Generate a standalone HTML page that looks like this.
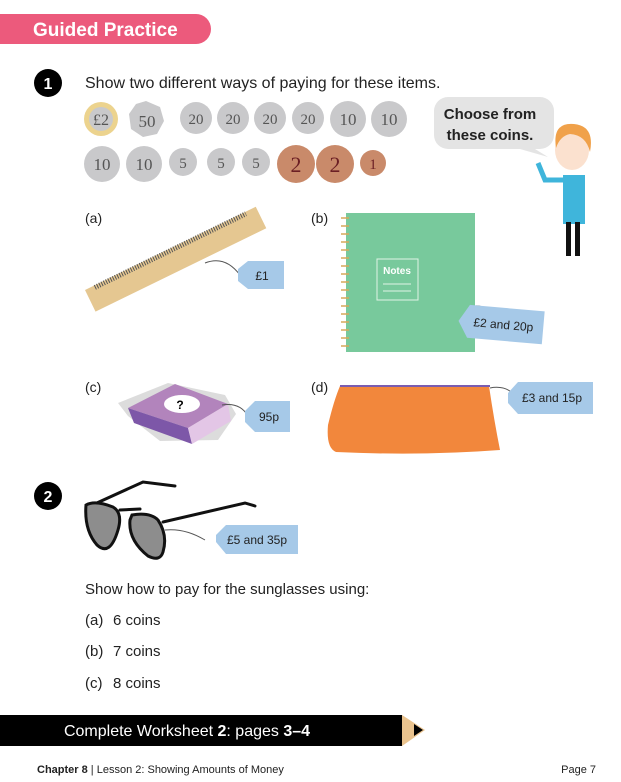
<!DOCTYPE html>
<html><head><meta charset="utf-8"><style>
body{margin:0;width:621px;height:777px;background:#fff;overflow:hidden;font-family:"Liberation Sans",sans-serif;}
</style></head><body>
<svg width="621" height="777" xmlns="http://www.w3.org/2000/svg" font-family="Liberation Sans, sans-serif">
<path d="M0 14 H196 A15 15 0 0 1 196 44 H0 Z" fill="#ec5a7c"/>
<text x="33" y="36" font-size="19" font-weight="bold" fill="#fff">Guided Practice</text>
<circle cx="48" cy="83" r="14" fill="#000"/><text x="48" y="89" font-size="16" font-weight="bold" fill="#fff" text-anchor="middle">1</text>
<text x="85" y="88" font-size="16" fill="#222">Show two different ways of paying for these items.</text>
<g font-family="Liberation Serif, serif" text-anchor="middle">
<circle cx="101" cy="119" r="17" fill="#ecd38e"/><circle cx="101" cy="119" r="12" fill="#c9c9cb"/><text x="101" y="125" font-size="16" fill="#555">£2</text>
<polygon points="146,101 160,107 164,121 157,134 143,137 131,129 129,114 136,104" fill="#c9c9cb"/><text x="147" y="127" font-size="17" fill="#555">50</text>
<g fill="#c9c9cb"><circle cx="196" cy="118" r="16"/><circle cx="233" cy="118" r="16"/><circle cx="270" cy="118" r="16"/><circle cx="308" cy="118" r="16"/><circle cx="348" cy="119" r="18"/><circle cx="389" cy="119" r="18"/>
<circle cx="102" cy="164" r="18"/><circle cx="144" cy="164" r="18"/><circle cx="183" cy="162" r="14"/><circle cx="221" cy="162" r="14"/><circle cx="256" cy="162" r="14"/></g>
<g fill="#555" font-size="15"><text x="196" y="124">20</text><text x="233" y="124">20</text><text x="270" y="124">20</text><text x="308" y="124">20</text><text x="348" y="125" font-size="17">10</text><text x="389" y="125" font-size="17">10</text>
<text x="102" y="170" font-size="17">10</text><text x="144" y="170" font-size="17">10</text><text x="183" y="168">5</text><text x="221" y="168">5</text><text x="256" y="168">5</text></g>
<circle cx="296" cy="164" r="19" fill="#c98a6a"/><circle cx="335" cy="164" r="19" fill="#c98a6a"/><circle cx="373" cy="163" r="13" fill="#c98a6a"/>
<g fill="#6b1f24"><text x="296" y="172" font-size="22">2</text><text x="335" y="172" font-size="22">2</text><text x="373" y="169" font-size="15">1</text></g>
</g>
<path d="M448 97 H540 A14 14 0 0 1 554 111 V135 A14 14 0 0 1 540 149 H535 L548 157 L520 149 H448 A14 14 0 0 1 434 135 V111 A14 14 0 0 1 448 97Z" fill="#e4e4e4"/>
<text x="490" y="119" font-size="15" font-weight="bold" fill="#222" text-anchor="middle">Choose from</text>
<text x="490" y="140" font-size="15" font-weight="bold" fill="#222" text-anchor="middle">these coins.</text>
<ellipse cx="572" cy="150" rx="17" ry="20" fill="#fbe1cf"/><path d="M556 148 Q552 122 574 124 Q595 126 590 152 Q586 135 570 134 Q560 136 556 148Z" fill="#f0a14a"/>
<path d="M563 175 H585 V224 H563Z" fill="#3fb5db"/><path d="M565 180 L545 180 L538 163" stroke="#3fb5db" stroke-width="5" fill="none"/>
<rect x="566" y="222" width="5" height="34" fill="#111"/><rect x="575" y="222" width="5" height="34" fill="#111"/>
<g font-size="14" fill="#222"><text x="85" y="223">(a)</text><text x="311" y="223">(b)</text><text x="85" y="392">(c)</text><text x="311" y="392">(d)</text></g>
<g transform="translate(85,290) rotate(-26)"><rect x="0" y="0" width="190" height="24" fill="#e5c791"/>
<line x1="10" y1="2" x2="178" y2="2" stroke="#555" stroke-width="5" stroke-dasharray="1 1.5"/></g>
<path d="M205 263 Q225 255 240 275" stroke="#555" fill="none"/>
<path d="M248 261 H284 V289 H248 L238 281 V269Z" fill="#a6c9e8"/><text x="262" y="280" font-size="12" fill="#222" text-anchor="middle">£1</text>
<rect x="346" y="213" width="129" height="139" fill="#78c99c"/>
<g stroke="#d6a95a" stroke-width="1.5" fill="none"><path d="M341 218 h8 M341 226 h8 M341 234 h8 M341 242 h8 M341 250 h8 M341 258 h8 M341 266 h8 M341 274 h8 M341 282 h8 M341 290 h8 M341 298 h8 M341 306 h8 M341 314 h8 M341 322 h8 M341 330 h8 M341 338 h8 M341 346 h8"/></g>
<rect x="377" y="259" width="41" height="41" fill="none" stroke="#dff3e6"/><text x="397" y="274" font-size="10" font-weight="bold" fill="#fff" text-anchor="middle">Notes</text>
<path d="M383 284 h28 M383 291 h28" stroke="#dff3e6"/>
<path d="M475 306 Q485 305 490 316" stroke="#555" fill="none"/>
<g transform="translate(460,304) rotate(5)"><path d="M10 0 H85 V33 H10 L0 17Z" fill="#a6c9e8"/><text x="45" y="21" font-size="12" fill="#222" text-anchor="middle">£2 and 20p</text></g>
<polygon points="118,403 168,383 225,395 236,414 218,440 160,441 128,416" fill="#dcdcdc"/>
<polygon points="128,408 175,384 228,404 188,428" fill="#b284bc"/><polygon points="128,408 188,428 192,444 134,423" fill="#7d57a8"/><polygon points="188,428 228,404 231,421 192,444" fill="#e3c6e6"/>
<ellipse cx="182" cy="404" rx="18" ry="9" fill="#fff"/><text x="180" y="409" font-size="12" font-weight="bold" text-anchor="middle">?</text>
<path d="M222 405 Q240 402 248 416" stroke="#555" fill="none"/>
<path d="M255 401 H290 V432 H255 L245 422 V411Z" fill="#a6c9e8"/><text x="269" y="421" font-size="12" fill="#222" text-anchor="middle">95p</text>
<path d="M340 386 H489 Q494 420 500 450 Q420 456 336 452 Q326 448 328 425 Q334 400 340 386Z" fill="#f2873c"/>
<path d="M340 386 H490" stroke="#7a5cb0" stroke-width="2"/>
<path d="M490 388 Q505 385 515 395" stroke="#555" fill="none"/>
<path d="M518 382 H593 V414 H518 L508 403 V393Z" fill="#a6c9e8"/><text x="552" y="402" font-size="12" fill="#222" text-anchor="middle">£3 and 15p</text>
<circle cx="48" cy="496" r="14" fill="#000"/><text x="48" y="502" font-size="16" font-weight="bold" fill="#fff" text-anchor="middle">2</text>
<g stroke="#111" stroke-width="3" stroke-linecap="round" fill="none"><path d="M88 507 L143 482 L175 486"/><path d="M163 522 L245 503 L255 506"/><path d="M120 510 L140 509"/></g>
<path d="M86 505 Q95 500 113 507 Q123 513 118 530 Q110 557 97 545 Q84 530 86 505Z" fill="#8d8d8d" stroke="#111" stroke-width="3"/>
<path d="M132 515 Q150 512 158 520 Q168 535 163 552 Q160 562 148 556 Q128 540 130 520Z" fill="#8d8d8d" stroke="#111" stroke-width="3"/>
<path d="M165 530 Q185 528 205 540" stroke="#555" fill="none"/>
<path d="M226 525 H298 V554 H226 L216 542 V535Z" fill="#a6c9e8"/><text x="257" y="544" font-size="12" fill="#222" text-anchor="middle">£5 and 35p</text>
<g font-size="15" fill="#222"><text x="85" y="594">Show how to pay for the sunglasses using:</text>
<text x="85" y="625">(a)</text><text x="113" y="625">6 coins</text>
<text x="85" y="656">(b)</text><text x="113" y="656">7 coins</text>
<text x="85" y="688">(c)</text><text x="113" y="688">8 coins</text></g>
<rect x="0" y="715" width="402" height="31" fill="#000"/><polygon points="402,715 402,746 425,730" fill="#eac38e"/><polygon points="414,724 414,736 423,730" fill="#000"/>
<text x="187" y="736" font-size="16" fill="#fff" text-anchor="middle">Complete Worksheet <tspan font-weight="bold">2</tspan>: pages <tspan font-weight="bold">3–4</tspan></text>
<text x="37" y="773" font-size="11" fill="#222"><tspan font-weight="bold">Chapter 8</tspan> | Lesson 2: Showing Amounts of Money</text>
<text x="596" y="773" font-size="11" fill="#222" text-anchor="end">Page 7</text>
</svg>
</body></html>
